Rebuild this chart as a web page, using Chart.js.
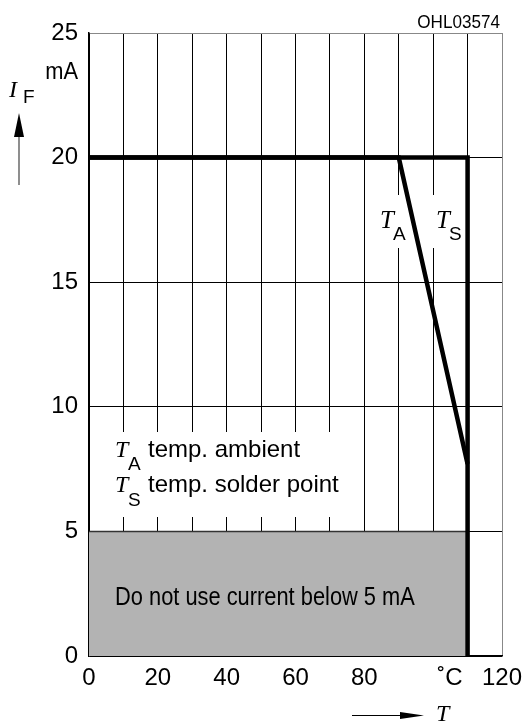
<!DOCTYPE html>
<html>
<head>
<meta charset="utf-8">
<script src="https://cdn.jsdelivr.net/npm/chart.js@4/dist/chart.umd.min.js"></script>
<style>
  body { margin: 0; background: #fff; }
  canvas { display: block; }
</style>
</head>
<body>
<canvas id="myChart" width="526" height="724"></canvas>
<script>
// forward current vs temperature (derating)
const tempA = [0, 90, 110];
const currentA = [20, 20, 7.7];
const tempS = [0, 110, 110];
const currentS = [20, 20, 0];
const zoneTemp = [0, 110];
const zoneCurrent = [5, 5];
const xTickText = { 0: "0", 20: "20", 40: "40", 60: "60", 80: "80", 100: "     ˚C", 120: "120" };

const SANS = "'Liberation Sans', Arial, sans-serif";
const SERIF = "'Liberation Serif', 'Times New Roman', serif";

const toPoints = (xs, ys) => xs.map((x, i) => ({ x: x, y: ys[i] }));

const txt = (c, s, x, y, font, align, sx) => {
  c.save();
  c.translate(x, y);
  c.scale(sx || 1, 1);
  c.font = font;
  c.textAlign = align || "left";
  c.textBaseline = "alphabetic";
  c.fillStyle = "#000";
  c.fillText(s, 0, 0);
  c.restore();
};

const extras = {
  id: "extras",
  beforeDatasetsDraw(chart) {
    const c = chart.ctx;
    c.save();
    c.fillStyle = "#fff";
    // gaps in the grid behind the labels
    c.fillRect(95, 432, 252, 85);
    c.fillRect(370, 195, 39, 53);
    c.fillRect(428, 195, 36, 53);
    c.restore();
  },
  afterDatasetsDraw(chart) {
    const c = chart.ctx;
    txt(c, "OHL03574", 500, 28, "19px " + SANS, "right", 0.9);
    txt(c, "mA", 78, 79, "23px " + SANS, "right", 0.95);
    txt(c, "I", 9, 97, "italic 24px " + SERIF);
    txt(c, "F", 23, 103, "19px " + SANS);

    // up arrow
    c.save();
    c.strokeStyle = "#444";
    c.lineWidth = 1.2;
    c.beginPath();
    c.moveTo(19, 135);
    c.lineTo(19, 185);
    c.stroke();
    c.fillStyle = "#000";
    c.beginPath();
    c.moveTo(14, 137);
    c.lineTo(24, 137);
    c.lineTo(19, 113);
    c.closePath();
    c.fill();

    // right arrow
    c.strokeStyle = "#000";
    c.lineWidth = 1;
    c.beginPath();
    c.moveTo(352, 715.5);
    c.lineTo(405, 715.5);
    c.stroke();
    c.beginPath();
    c.moveTo(400, 712);
    c.lineTo(400, 719);
    c.lineTo(424, 715.5);
    c.closePath();
    c.fill();
    c.restore();
    txt(c, "T", 436, 721, "italic 24px " + SERIF);

    // curve labels
    txt(c, "T", 380, 228, "italic 25px " + SERIF);
    txt(c, "A", 393, 240, "19px " + SANS);
    txt(c, "T", 436, 228, "italic 25px " + SERIF);
    txt(c, "S", 449, 240, "19px " + SANS);

    // legend
    txt(c, "T", 115, 457, "italic 24px " + SERIF);
    txt(c, "A", 128, 470, "19px " + SANS);
    txt(c, "temp. ambient", 148, 457, "24px " + SANS);
    txt(c, "T", 115, 492, "italic 24px " + SERIF);
    txt(c, "S", 128, 506, "19px " + SANS);
    txt(c, "temp. solder point", 148, 492, "24px " + SANS);

    txt(c, "Do not use current below 5 mA", 115, 605, "26px " + SANS, "left", 0.84);
  },
};

const gridColor = (ctx, edge) => (ctx.tick && ctx.tick.value === edge ? "#888" : "#000");

const init = () => {
  const ctx = document.getElementById("myChart").getContext("2d");
  new Chart(ctx, {
    type: "line",
    data: {
      datasets: [
        {
          data: toPoints(tempA, currentA),
          borderColor: "#000",
          borderWidth: 4.5,
          borderJoinStyle: "miter",
          pointRadius: 0,
          fill: false,
        },
        {
          data: toPoints(tempS, currentS),
          borderColor: "#000",
          borderWidth: 4.5,
          borderJoinStyle: "miter",
          pointRadius: 0,
          fill: false,
        },
        {
          data: toPoints(zoneTemp, zoneCurrent),
          borderColor: "#333",
          borderWidth: 1.5,
          backgroundColor: "#b3b3b3",
          pointRadius: 0,
          fill: "origin",
        },
      ],
    },
    options: {
      responsive: false,
      animation: false,
      devicePixelRatio: 1,
      layout: { padding: { top: 33, right: 24, left: 0, bottom: 0 } },
      plugins: { legend: { display: false }, tooltip: { enabled: false } },
      scales: {
        x: {
          type: "linear",
          min: 0,
          max: 120,
          afterFit: (s) => { s.height = 68; s.paddingLeft = 0; s.paddingRight = 0; },
          grid: { color: (c) => gridColor(c, 120), lineWidth: 1, drawTicks: false },
          border: { display: true, color: "#000", width: 1.5 },
          ticks: {
            stepSize: 10,
            autoSkip: false,
            maxRotation: 0,
            padding: 8,
            color: "#000",
            font: { family: SANS, size: 24 },
            callback: (v) => (xTickText[v] !== undefined ? xTickText[v] : ""),
          },
        },
        y: {
          min: 0,
          max: 25,
          afterFit: (s) => { s.width = 89; s.paddingTop = 0; s.paddingBottom = 0; },
          grid: { color: (c) => gridColor(c, 25), lineWidth: 1, drawTicks: false },
          border: { display: true, color: "#000", width: 1.5 },
          ticks: {
            stepSize: 5,
            padding: 11,
            color: "#000",
            font: { family: SANS, size: 24 },
          },
        },
      },
    },
    plugins: [extras],
  });
};

window.addEventListener("load", init);
</script>
</body>
</html>
